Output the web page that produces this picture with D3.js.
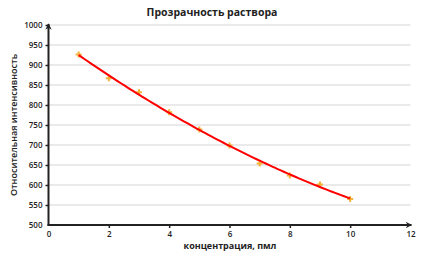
<!DOCTYPE html>
<html><head><meta charset="utf-8">
<script src="https://cdn.jsdelivr.net/npm/d3@7"></script>
<style>body{margin:0;background:#fff}svg{display:block}text{font-family:"Open Sans",sans-serif}</style>
</head><body>
<script>
const concentration = [1,2,3,4,5,6,7,8,9,10];
const intensity = [926,867,832,782,739,699,654,624,601,565];
const xTicks = [0,2,4,6,8,10,12];
const yTicks = [500,550,600,650,700,750,800,850,900,950,1000];
const title = "Прозрачность раствора";
const xTitle = "концентрация, пмл";
const yTitle = "Относительная интенсивность";

const W=424,H=259;
const svg=d3.select("body").append("svg").attr("width",W).attr("height",H);
const x=d3.scaleLinear().domain([0,12]).range([48.5,410.5]);
const y=d3.scaleLinear().domain([500,1000]).range([225,25]);

// gridlines
svg.append("g").selectAll("line").data(yTicks.filter(d=>d>500)).join("line")
 .attr("x1",x(0)).attr("x2",x(12)).attr("y1",d=>y(d)).attr("y2",d=>y(d))
 .attr("stroke","#e3e3e3").attr("stroke-width",1.3);

// polynomial (quadratic) trend fit from data
function polyfit(xs,ys){
  let S=[0,0,0,0,0],T=[0,0,0];
  xs.forEach((xi,i)=>{for(let k=0;k<5;k++)S[k]+=Math.pow(xi,k);for(let k=0;k<3;k++)T[k]+=ys[i]*Math.pow(xi,k);});
  const A=[[S[0],S[1],S[2],T[0]],[S[1],S[2],S[3],T[1]],[S[2],S[3],S[4],T[2]]];
  for(let i=0;i<3;i++){for(let j=i+1;j<3;j++){const f=A[j][i]/A[i][i];for(let k=i;k<4;k++)A[j][k]-=f*A[i][k];}}
  const c=[0,0,0];for(let i=2;i>=0;i--){let s=A[i][3];for(let k=i+1;k<3;k++)s-=A[i][k]*c[k];c[i]=s/A[i][i];}
  return c;
}
const c=polyfit(concentration,intensity);
const trend=d3.range(0,91).map(i=>{const xv=1+i*0.1;return [xv,c[0]+c[1]*xv+c[2]*xv*xv];});

// axes
const axC="#222";
const yAxis=svg.append("g").attr("transform",`translate(${x(0)},0)`)
 .call(d3.axisLeft(y).tickValues(yTicks).tickFormat(d3.format("d")).tickSize(3).tickPadding(3));
const xAxis=svg.append("g").attr("transform",`translate(0,${y(500)})`)
 .call(d3.axisBottom(x).tickValues(xTicks).tickFormat(d3.format("d")).tickSize(3).tickPadding(3));
[yAxis,xAxis].forEach(g=>{
  g.select(".domain").remove();
  g.selectAll("line").attr("stroke",axC).attr("stroke-width",1.5);
  g.selectAll("text").attr("fill","#222").style("font-size","8px").style("font-weight","600").attr("font-family","Open Sans");
});
xAxis.selectAll(".tick").filter(d=>d===0||d===12).select("line").remove();
yAxis.selectAll(".tick").filter(d=>d===500).select("line").remove();

// axis lines with arrows
svg.append("defs").append("marker").attr("id","arr").attr("viewBox","0 0 10 10")
 .attr("refX",9).attr("refY",5).attr("markerWidth",3.2).attr("markerHeight",3.2).attr("orient","auto")
 .append("path").attr("d","M0,0 L10,5 L0,10 L3,5 Z").attr("fill",axC);
svg.append("line").attr("x1",x(0)).attr("x2",x(0)).attr("y1",y(500)+1).attr("y2",y(1000)-1)
 .attr("stroke",axC).attr("stroke-width",2).attr("marker-end","url(#arr)");
svg.append("line").attr("x1",x(0)-1).attr("x2",x(12)+1).attr("y1",y(500)).attr("y2",y(500))
 .attr("stroke",axC).attr("stroke-width",2).attr("marker-end","url(#arr)");

// markers
svg.append("g").selectAll("path").data(concentration.map((d,i)=>[d,intensity[i]])).join("path")
 .attr("d",d=>{const cx=x(d[0]),cy=y(d[1]);return `M${cx-3},${cy-1}h2v-2h2v2h2v2h-2v2h-2v-2h-2z`;})
 .attr("fill","#f2b33a");

// trend line
svg.append("path").datum(trend).attr("fill","none").attr("stroke","#ff0000").attr("stroke-width",2)
 .attr("d",d3.line().x(d=>x(d[0])).y(d=>y(d[1])));

// titles
svg.append("text").attr("x",212).attr("y",16).attr("text-anchor","middle")
 .style("font-size","10.5px").style("font-weight","700").attr("fill","#222").text(title);
svg.append("text").attr("x",230).attr("y",249).attr("text-anchor","middle")
 .style("font-size","9px").style("font-weight","700").attr("fill","#222").text(xTitle);
svg.append("text").attr("transform","translate(17,125) rotate(-90)").attr("text-anchor","middle")
 .style("font-size","9px").style("font-weight","600").attr("fill","#222").text(yTitle);
</script>
</body></html>
